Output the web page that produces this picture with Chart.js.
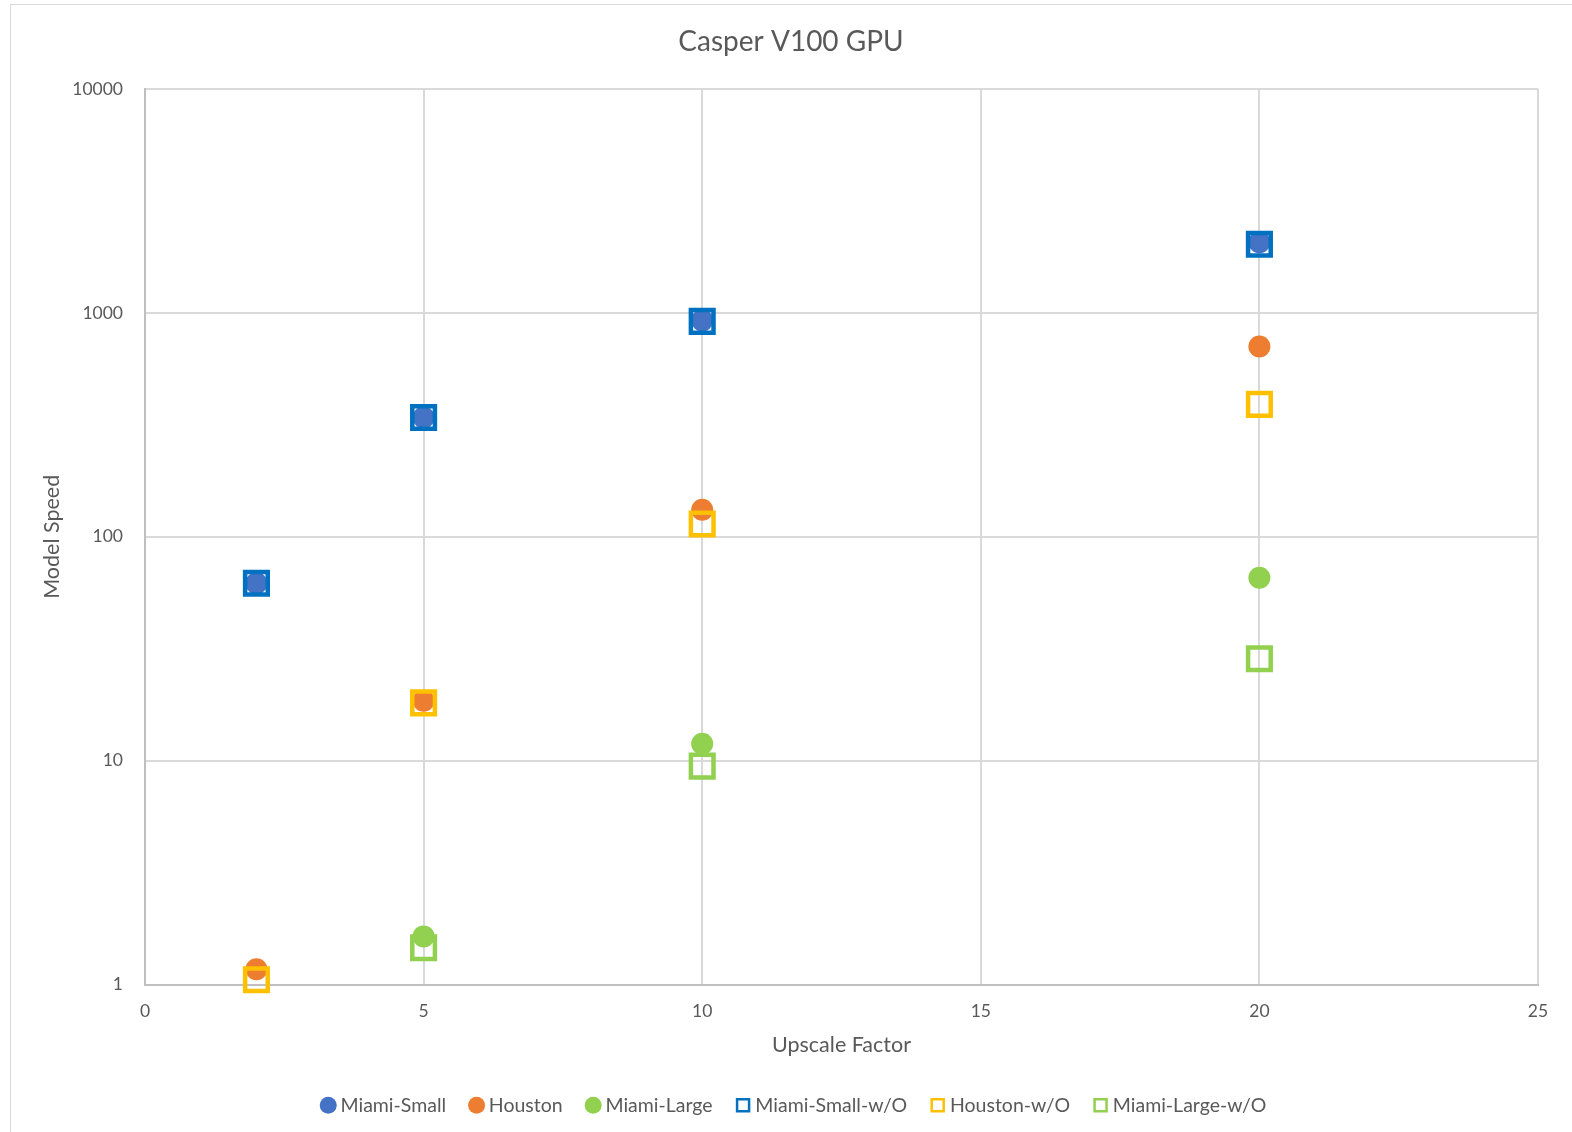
<!DOCTYPE html>
<html>
<head>
<meta charset="utf-8">
<title>Casper V100 GPU</title>
<script src="https://cdn.jsdelivr.net/npm/chart.js@4/dist/chart.umd.min.js"></script>
<style>
    html, body { margin: 0; padding: 0; background: #ffffff; overflow: hidden; }
    #frame {
        position: absolute; left: 10px; top: 4px; width: 1600px; height: 1200px;
        border: 1px solid #d9d9d9; box-sizing: border-box;
    }
    #wrap { position: absolute; left: 0; top: 0; width: 1572px; height: 1132px; }
</style>
</head>
<body>
<div id="frame"></div>
<div id="wrap"><canvas id="speedChart" width="1572" height="1132"></canvas></div>
<script>
// Upscale factors on the x axis
const factors = [2, 5, 10, 20];
const factorsLarge = [5, 10, 20];

// Model speed per configuration
const miamiSmall = [62, 341, 926, 2068];
const houston = [1.17, 18.5, 132, 708];
const miamiLarge = [1.64, 11.9, 65.6];
const miamiSmallWo = [62, 341, 916, 2025];
const houstonWo = [1.05, 18.1, 114, 390];
const miamiLargeWo = [1.46, 9.45, 28.5];

const xTicks = [0, 5, 10, 15, 20, 25];
const yTicks = [1, 10, 100, 1000, 10000];

const chartTitle = "Casper V100 GPU";
const textColor = "#595959";
const fontFamily = "Lato, 'Open Sans', sans-serif";

function points(xs, ys) {
    return xs.map((x, i) => ({ x: x, y: ys[i] }));
}

function circleSet(label, xs, ys, color) {
    return {
        label: label,
        data: points(xs, ys),
        pointStyle: "circle",
        pointRadius: 11,
        pointBackgroundColor: color,
        backgroundColor: color,
        borderColor: color,
        pointBorderWidth: 0,
        borderWidth: 0,
        showLine: false,
        clip: false,
        order: 1
    };
}

function squareSet(label, xs, ys, color) {
    return {
        label: label,
        data: points(xs, ys),
        pointStyle: "rect",
        pointRadius: 16,
        pointBackgroundColor: "rgba(0,0,0,0)",
        backgroundColor: "rgba(0,0,0,0)",
        borderColor: color,
        pointBorderColor: color,
        pointBorderWidth: 4.5,
        borderWidth: 4.5,
        showLine: false,
        clip: false,
        order: 0
    };
}

const datasets = [
    circleSet("Miami-Small", factors, miamiSmall, "#4472c4"),
    circleSet("Houston", factors, houston, "#ed7d31"),
    circleSet("Miami-Large", factorsLarge, miamiLarge, "#92d050"),
    squareSet("Miami-Small-w/O", factors, miamiSmallWo, "#0070c0"),
    squareSet("Houston-w/O", factors, houstonWo, "#ffc000"),
    squareSet("Miami-Large-w/O", factorsLarge, miamiLargeWo, "#92d050")
];

// Title and legend are centred on the whole chart frame rather than on the plot
const frameCentre = {
    id: "frameCentre",
    afterLayout(chart) {
        const lg = chart.legend;
        const shift = 796 - (lg.left + lg.right) / 2;
        lg.left += shift;
        lg.right += shift;
        lg.top -= 2;
        lg.bottom -= 2;
    },
    afterDraw(chart) {
        const c = chart.ctx;
        c.save();
        c.fillStyle = textColor;
        c.font = "28px " + fontFamily;
        c.textAlign = "center";
        c.textBaseline = "middle";
        c.fillText(chartTitle, 791, 42);
        c.restore();
    }
};

const ctx = document.getElementById("speedChart").getContext("2d");
new Chart(ctx, {
    type: "scatter",
    data: { datasets: datasets },
    plugins: [frameCentre],
    options: {
        responsive: false,
        animation: false,
        layout: { padding: { left: 0, right: 34, top: 89, bottom: 5 } },
        scales: {
            x: {
                type: "linear",
                min: 0,
                max: 25,
                afterBuildTicks: scale => { scale.ticks = xTicks.map(v => ({ value: v })); },
                afterFit: scale => { scale.height = 85; },
                grid: { color: "#d9d9d9", lineWidth: 2, drawTicks: false },
                border: { color: "#bfbfbf", width: 2 },
                ticks: { color: textColor, font: { family: fontFamily, size: 17.5 }, padding: 16 },
                title: {
                    display: true,
                    text: "Upscale Factor",
                    color: textColor,
                    font: { family: fontFamily, size: 21.5 },
                    padding: { top: 0, bottom: 12 }
                }
            },
            y: {
                type: "logarithmic",
                min: 1,
                max: 10000,
                afterBuildTicks: scale => { scale.ticks = yTicks.map(v => ({ value: v })); },
                afterFit: scale => { scale.width = 145; },
                grid: { color: "#d9d9d9", lineWidth: 2, drawTicks: false },
                border: { color: "#bfbfbf", width: 2 },
                ticks: {
                    color: textColor,
                    font: { family: fontFamily, size: 17.5 },
                    padding: 22,
                    callback: value => String(value)
                },
                title: {
                    display: true,
                    text: "Model Speed",
                    color: textColor,
                    font: { family: fontFamily, size: 21.5 },
                    padding: { top: 39, bottom: 0 }
                }
            }
        },
        plugins: {
            title: { display: false },
            legend: {
                position: "bottom",
                labels: {
                    usePointStyle: true,
                    boxWidth: 5,
                    boxHeight: 12,
                    padding: 28,
                    color: textColor,
                    font: { family: fontFamily, size: 19.5 },
                    sort: (a, b) => a.datasetIndex - b.datasetIndex,
                    generateLabels: chart => {
                        const items = Chart.defaults.plugins.legend.labels.generateLabels(chart);
                        items.forEach(item => {
                            if (item.pointStyle === "rect") item.lineWidth = 2.5;
                        });
                        return items;
                    }
                }
            },
            tooltip: { enabled: false }
        }
    }
});
</script>
</body>
</html>
